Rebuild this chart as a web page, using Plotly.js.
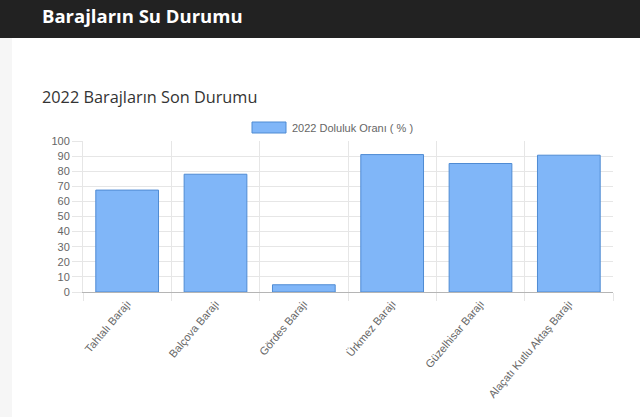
<!DOCTYPE html>
<html>
<head>
<meta charset="utf-8">
<script src="https://cdn.plot.ly/plotly-3.0.1.min.js"></script>
<style>
  html, body { margin: 0; padding: 0; background: #fff; }
  body { width: 640px; height: 417px; position: relative; overflow: hidden; }
  .header {
    position: absolute; left: 0; top: 0; width: 640px; height: 38px;
    background: #222222; color: #fff;
    font-family: "Open Sans", sans-serif; font-weight: 700; font-size: 18.5px;
    line-height: 31px; padding-left: 42px; box-sizing: border-box;
  }
  .edge { position: absolute; left: 0; top: 38px; width: 12px; height: 379px; background: #f6f6f6; }
  h2 {
    position: absolute; left: 42px; top: 86px; margin: 0;
    font-family: "Open Sans", sans-serif; font-weight: 400; font-size: 16.3px;
    color: #333; line-height: 22px;
  }
  #chart { position: absolute; left: 0; top: 0; width: 640px; height: 417px; }
</style>
</head>
<body>
<div class="header">Barajların Su Durumu</div>
<div class="edge"></div>
<h2>2022 Barajların Son Durumu</h2>
<div id="chart"></div>
<script>
// dam fill levels
const dams = ['Tahtalı Barajı', 'Balçova Barajı', 'Gördes Barajı', 'Ürkmez Barajı', 'Güzelhisar Barajı', 'Alaçatı Kutlu Aktaş Barajı'];
const fill2022 = [67.5, 78, 4.8, 91, 85.1, 90.6];
const seriesName = '2022 Doluluk Oranı ( % )';
const yTicks = [0, 10, 20, 30, 40, 50, 60, 70, 80, 90, 100];

const barFill = 'rgba(128,182,248,1)';
const barLine = '#4f8bd3';
const gridCol = '#e6e6e6';

const data = [
  {
    x: dams,
    y: fill2022,
    type: 'bar',
    name: seriesName,
    marker: { color: barFill, line: { color: barLine, width: 1 } },
    hoverinfo: 'x+y'
  }
];

// plot area in px: left 83, right 613, top 141, bottom 292
const L = 83, R = 613, T = 141, B = 292;

const layout = {
  width: 640,
  height: 417,
  margin: { l: L, r: 640 - R, t: T, b: 417 - B },
  paper_bgcolor: 'rgba(0,0,0,0)',
  plot_bgcolor: 'rgba(0,0,0,0)',
  showlegend: false,
  bargap: 0.29,
  font: { family: 'Liberation Sans, Arial, sans-serif', size: 11, color: '#666' },
  xaxis: {
    type: 'category',
    tickson: 'boundaries',
    showgrid: true,
    gridcolor: gridCol,
    ticks: 'outside',
    ticklen: 8,
    tickcolor: gridCol,
    tickangle: -50,
    tickfont: { size: 11, color: '#666' },
    showline: true,
    linecolor: '#b5b5b5',
    linewidth: 1,
    zeroline: false,
    fixedrange: true
  },
  yaxis: {
    range: [0, 100],
    tickvals: yTicks,
    showgrid: true,
    gridcolor: gridCol,
    ticks: 'outside',
    ticklen: 10,
    tickcolor: gridCol,
    tickfont: { size: 11, color: '#666' },
    showline: true,
    linecolor: gridCol,
    zeroline: false,
    fixedrange: true
  },
  // chart.js style legend: wide box + label
  shapes: [
    {
      type: 'rect', xref: 'paper', yref: 'paper',
      x0: (252 - L) / (R - L), x1: (286 - L) / (R - L),
      y0: 1 + (T - 133) / (B - T), y1: 1 + (T - 122) / (B - T),
      fillcolor: barFill, line: { color: barLine, width: 1 }
    }
  ],
  annotations: [
    {
      xref: 'paper', yref: 'paper',
      x: (290 - L) / (R - L), y: 1 + (T - 127.5) / (B - T),
      xanchor: 'left', yanchor: 'middle',
      text: seriesName, showarrow: false,
      font: { family: 'Liberation Sans, Arial, sans-serif', size: 11, color: '#666' }
    }
  ]
};

Plotly.newPlot('chart', data, layout, { displayModeBar: false, staticPlot: true });
</script>
</body>
</html>
